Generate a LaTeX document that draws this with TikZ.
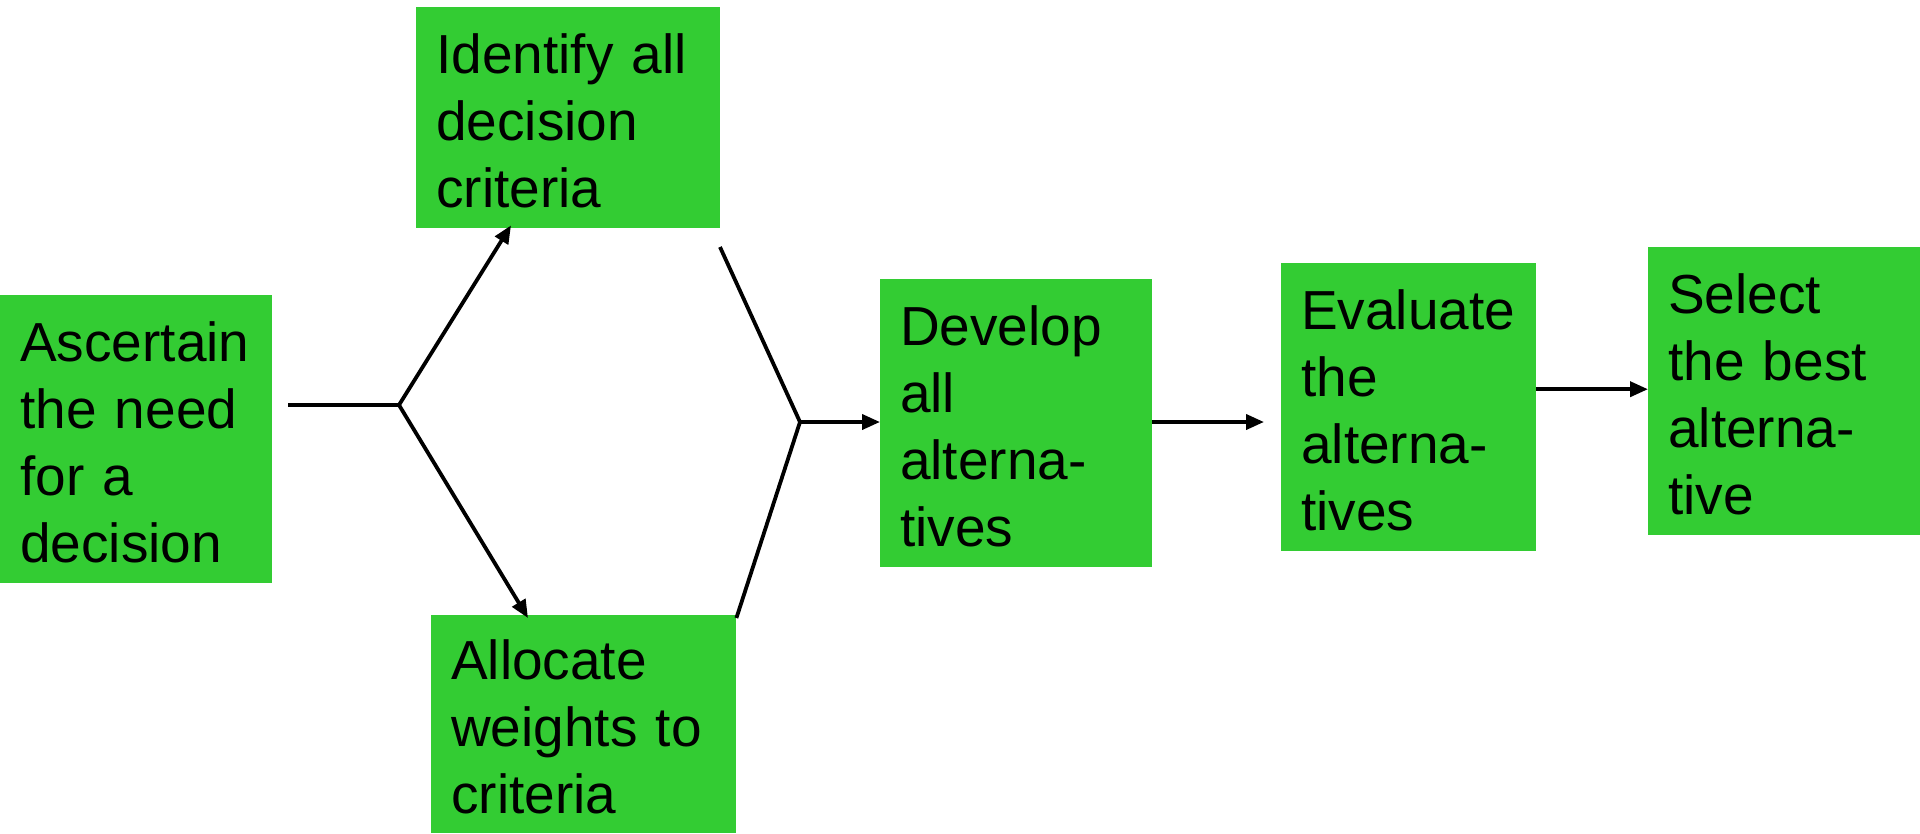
\documentclass[tikz,border=0pt]{standalone}
\usepackage{fontspec}
\setmainfont{Liberation Sans}
\usetikzlibrary{arrows.meta,calc}
\definecolor{boxgreen}{RGB}{51,204,51}
\tikzset{
  stepbox/.style={fill=boxgreen, anchor=north west, inner sep=0pt, align=left,
    font=\fontsize{55}{67}\selectfont},
  conn/.style={line width=3.8pt, black},
  arr/.style={conn, -{Triangle[length=18pt,width=15pt]}}
}
\begin{document}
\begin{tikzpicture}[x=1pt,y=-1pt]
\useasboundingbox (0,0) rectangle (1920,833);
\node[stepbox, minimum width=272pt, minimum height=288pt, text width=232pt] (asc) at (0,295)
  {\rule{0pt}{46pt}Ascertain\\the need\\for a\\decision};
\node[stepbox, minimum width=304pt, minimum height=221pt, text width=264pt] (ident) at (416,7)
  {\rule{0pt}{46pt}Identify all\\decision\\criteria};
\node[stepbox, minimum width=305pt, minimum height=218pt, text width=265pt] (alloc) at (431,615)
  {\rule{0pt}{46pt}Allocate\\weights to\\criteria};
\node[stepbox, minimum width=272pt, minimum height=288pt, text width=232pt] (dev) at (880,279)
  {\rule{0pt}{46pt}Develop\\all\\alterna-\\tives};
\node[stepbox, minimum width=255pt, minimum height=288pt, text width=215pt] (eval) at (1281,263)
  {\rule{0pt}{46pt}Evaluate\\the\\alterna-\\tives};
\node[stepbox, minimum width=272pt, minimum height=288pt, text width=232pt] (sel) at (1648,247)
  {\rule{0pt}{46pt}Select\\the best\\alterna-\\tive};
\coordinate (start) at (288,405);
\coordinate (branch) at (399,405);
\coordinate (identout) at (720,247);
\coordinate (merge) at (800,422);
\coordinate (evalin) at (1264,422);
\draw[conn] (start) -- (branch);
\draw[arr] (branch) -- ([xshift=95pt,yshift=3pt]ident.south west);
\draw[arr] (branch) -- ([xshift=97pt,yshift=-3pt]alloc.north west);
\draw[conn] (identout) -- (merge) -- ([yshift=-3pt]alloc.north east);
\draw[arr] (merge) -- (merge -| dev.west);
\draw[arr] (merge -| dev.east) -- (evalin);
\draw[arr] ($(sel.west -| eval.east)+(0,-2)$) -- ($(sel.west)+(0,-2)$);
\end{tikzpicture}
\end{document}
